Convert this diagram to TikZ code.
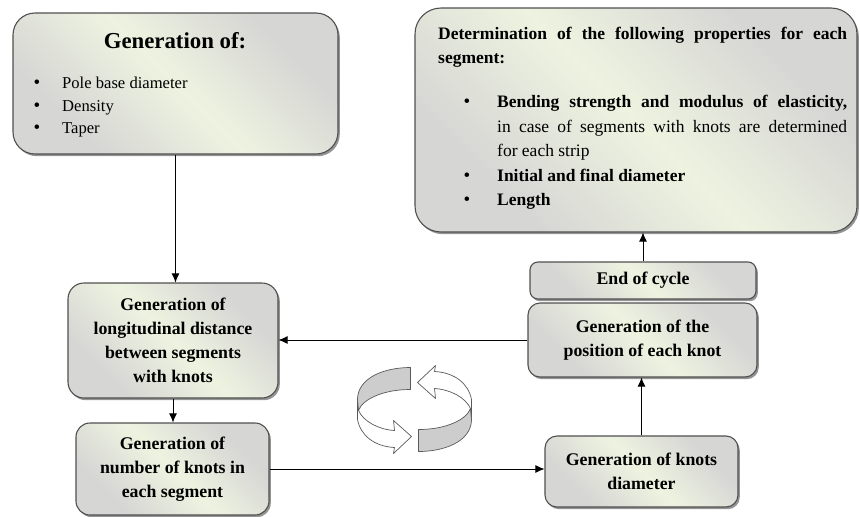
\documentclass[tikz,border=0pt]{standalone}
\usepackage{fontspec}
\setmainfont{Liberation Serif}
\usetikzlibrary{arrows.meta,shadows}
\definecolor{cg}{RGB}{214,214,212}
\definecolor{cl}{RGB}{238,243,224}
\definecolor{bordc}{RGB}{80,80,80}
\definecolor{icong}{RGB}{205,205,205}
\pgfdeclarehorizontalshading{boxshade}{100bp}{color(0bp)=(cg); color(28bp)=(cg); color(50bp)=(cl); color(72bp)=(cg); color(100bp)=(cg)}
\newcommand\bxfont{\fontsize{17.8}{24}\selectfont\bfseries}
\newcommand\bul{{\fontsize{19}{19}\selectfont\textbullet}}
\tikzset{
  boxbase/.style={draw=bordc, line width=1.1pt, shading=boxshade, shading angle=45,
    preaction={fill=black, opacity=0.42, transform canvas={xshift=1.8pt, yshift=-2.2pt}}},
  bigbox/.style={boxbase, rounded corners=22pt, inner sep=0pt},
  smallbox/.style={boxbase, rounded corners=13pt, align=center, font=\bxfont, inner sep=0pt},
  arr/.style={draw=black, line width=0.9pt, -{Latex[length=9pt,width=8pt]}},
  ribbon/.style={draw=black!65, line width=0.7pt, line join=round},
}
\begin{document}
\begin{tikzpicture}[x=1pt,y=-1pt]
\useasboundingbox (0,0) rectangle (860,517);
% big boxes
\node[bigbox, minimum width=325pt, minimum height=141pt] (b1) at (175.5,83.5) {};
\node[bigbox, minimum width=442pt, minimum height=224pt, rounded corners=26pt] (b2) at (636,120) {};
% small boxes
\node[smallbox, minimum width=210pt, minimum height=115pt, rounded corners=16pt] (b3) at (173,340.5)
  {Generation of\\longitudinal distance\\between segments\\with knots};
\node[smallbox, minimum width=193pt, minimum height=92pt, rounded corners=14pt] (b4) at (172.5,469)
  {Generation of\\number of knots in\\each segment};
\node[smallbox, minimum width=226pt, minimum height=37pt, rounded corners=8pt] (b5) at (643,280.5)
  {End of cycle};
\node[smallbox, minimum width=229pt, minimum height=74pt, rounded corners=12pt] (b6) at (642.5,340)
  {Generation of the\\position of each knot};
\node[smallbox, minimum width=193pt, minimum height=71pt, rounded corners=12pt] (b7) at (641.5,471.5)
  {Generation of knots\\diameter};
% texts of box 1
\node[anchor=base, font=\fontsize{22.8}{26}\selectfont\bfseries] (t1) at (175,48) {Generation of:};
\node[anchor=base west, font=\fontsize{16.6}{22}\selectfont, inner sep=0pt] (l1) at (62,88) {\llap{\bul\hspace{22pt}}Pole base diameter};
\node[anchor=base west, font=\fontsize{16.6}{22}\selectfont, inner sep=0pt] (l2) at (62,111) {\llap{\bul\hspace{22pt}}Density};
\node[anchor=base west, font=\fontsize{16.6}{22}\selectfont, inner sep=0pt] (l3) at (62,133) {\llap{\bul\hspace{22pt}}Taper};
% text of box 2
\node[anchor=north west, text width=409pt, inner sep=0pt, align=justify, font=\fontsize{17.5}{24.5}\selectfont] (t2) at (438,26.5)
  {\textbf{Determination of the following properties for each}\linebreak\textbf{segment:}\par\vspace{19.5pt}
   \leftskip=59pt
   \leavevmode\llap{\bul\hspace{27pt}}\textbf{Bending strength and modulus of elasticity,}\linebreak in case of segments with knots are determined\linebreak for each strip\par
   \leavevmode\llap{\bul\hspace{27pt}}\textbf{Initial and final diameter}\par
   \leavevmode\llap{\bul\hspace{27pt}}\textbf{Length}\par};
% connectors
\draw[arr] (b1.south) -- (b1.south |- b3.north);
\draw[arr] (b3.south) -- (b3.south |- b4.north);
\draw[arr] (b4.east) -- (b4.east -| b7.west);
\draw[arr] (b7.north) -- (b7.north |- b6.south);
\draw[arr] (b6.west) -- (b6.west -| b3.east);
\draw[arr] (b5.north) -- (b5.north |- b2.south);
% cycle icon
\foreach \ang in {0,180}{
\begin{scope}[shift={(414.5,409.5)}, rotate=\ang]
  \filldraw[ribbon, fill=white] (-57,-11) -- (-57,10) .. controls (-54,26) and (-40,37) .. (-20,38)
     -- (-21,44) -- (-3,27) -- (-21,11) -- (-20,21) .. controls (-36,20) and (-51,12) .. (-56,1) -- cycle;
  \filldraw[ribbon, fill=icong] (-4,-42) .. controls (-30,-42) and (-56,-32) .. (-57,-11)
     -- (-56,1) .. controls (-52,-10) and (-32,-20) .. (-4,-20) -- cycle;
\end{scope}}
\end{tikzpicture}
\end{document}
